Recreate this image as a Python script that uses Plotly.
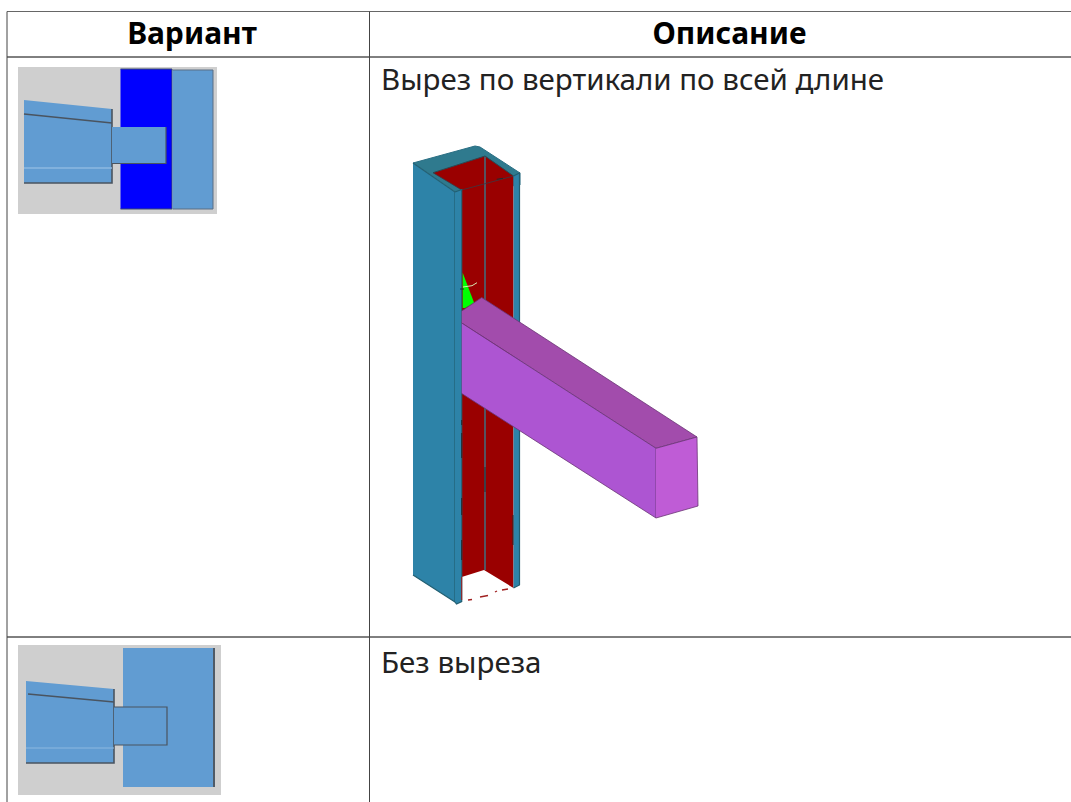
import plotly.graph_objects as go

W, H = 1071, 802

# ---- text ----
header_labels = ["Вариант", "Описание"]
header_x = [192, 729.5]
header_y = [36, 36]
row_labels = ["Вырез по вертикали по всей длине", "Без выреза"]
row_x = [381, 381]
row_y = [83, 666]

# ---- table rules ----
rule_h_x = [7, 1071]
rule_h_y = [11.5, 57, 637]
rule_v_x = [7, 369.5]
rule_v_y = [11.5, 802]

# ---- thumbnail 1 ----
t1_bg_x = [18, 217, 217, 18]
t1_bg_y = [67, 67, 214, 214]
t1_blue_x = [120.5, 172, 172, 120.5]
t1_blue_y = [69, 69, 209, 209]
t1_plate_x = [172.5, 213, 213, 172.5]
t1_plate_y = [70, 70, 209, 209]
t1_beam_x = [24, 112, 112, 24]
t1_beam_y = [100, 109, 183, 183]
t1_stub_x = [112, 166, 166, 112]
t1_stub_y = [127, 127, 163.5, 163.5]
t1_dark_x = [24, 112]
t1_dark_y = [114, 123]
t1_light_y = [168, 168]

# ---- thumbnail 2 ----
t2_bg_x = [18, 221, 221, 18]
t2_bg_y = [645, 645, 795, 795]
t2_plate_x = [123, 214, 214, 123]
t2_plate_y = [648, 648, 787, 787]
t2_edge_x = [214, 214]
t2_edge_y = [648, 787]
t2_beam_x = [26, 114, 114, 26]
t2_beam_y = [681, 689, 763, 763]
t2_stub_x = [114, 167, 167, 114]
t2_stub_y = [707, 707, 745, 745]
t2_dark_x = [28, 114]
t2_dark_y = [694, 702]
t2_light_x = [26, 114]
t2_light_y = [748, 748]

# ---- 3D view ----
cap_x = [413, 475, 480, 520, 520, 455]
cap_y = [163, 146, 147, 173, 185, 192]
red_x = [433, 485, 513.5, 513.5, 484, 461.7, 461.7]
red_y = [172.7, 156, 176, 588, 570, 577, 190]
face_x = [413, 455, 455, 413]
face_y = [163, 192, 602, 575]
flange_x = [455, 461.7, 461.7, 456.5, 455]
flange_y = [192, 189.5, 601.5, 604, 602]
right_x = [513.5, 519.5, 519.5, 514.5, 513.5]
right_y = [176, 173, 585, 588, 588]
web_x = [485, 485]
web_y = [156, 570]
edge_a_x = [433, 461.7, 513.5]
edge_a_y = [172.7, 190, 176]
rim_x = [433, 485, 513.5]
rim_y = [172.7, 156, 176]
beam_top_x = [461.7, 481.7, 697, 656, 461.7]
beam_top_y = [311, 297.5, 437, 448.3, 323]
beam_front_x = [461.7, 656, 656, 461.7]
beam_front_y = [323, 448.3, 518, 393.5]
beam_end_x = [656, 697, 698, 656]
beam_end_y = [448.3, 437, 506, 518]
green_x = [462.7, 474.3, 465, 462.7]
green_y = [272.7, 303.3, 308, 308]
pale_x = [463, 472, 477]
pale_y = [287, 285.7, 282.7]
red_end_x = [461.7, 461.7]
red_end_y = [577, 600]
red_dash_x = [468, 472, None, 480, 488, None, 495, 497, None, 502, 508]
red_dash_y = [600, 599.5, None, 597, 595.5, None, 592, 591, None, 590, 589]
black_dash_x = [461.7, 461.7, None, 461.7, 461.7, None, 461.7, 461.7, None, 461.7, 461.7, None,
                485, 485, None, 513, 513, None, 496.7, 503, None, 460, 464]
black_dash_y = [420, 425, None, 433, 458, None, 498, 515, None, 540, 560, None,
                467, 492, None, 515, 545, None, 179.3, 178.3, None, 289, 289]


def poly(fig, x, y, fill, line=None, width=1):
    fig.add_trace(go.Scatter(x=x, y=y, mode="lines", fill="toself", fillcolor=fill,
                             line=dict(color=line or fill, width=width if line else 0),
                             hoverinfo="skip", showlegend=False))


def stroke(fig, x, y, color, width=1):
    fig.add_trace(go.Scatter(x=x, y=y, mode="lines", line=dict(color=color, width=width),
                             hoverinfo="skip", showlegend=False, connectgaps=False))


fig = go.Figure()
BEAM = "#619CD2"
DARK = "#4A5460"
GRAY = "#CFCFCF"

# thumbnail 1
poly(fig, t1_bg_x, t1_bg_y, GRAY)
poly(fig, t1_blue_x, t1_blue_y, "#0000FF", "#3A4A70", 1)
poly(fig, t1_plate_x, t1_plate_y, BEAM, "#5A6E85", 1)
poly(fig, t1_beam_x, t1_beam_y, BEAM)
stroke(fig, t1_beam_x[1:], t1_beam_y[1:], DARK, 1.6)
stroke(fig, t1_dark_x, t1_dark_y, DARK, 1.6)
stroke(fig, t1_dark_x, t1_light_y, "#8DB8E0", 1.5)
poly(fig, t1_stub_x, t1_stub_y, BEAM)
stroke(fig, t1_stub_x[1:], t1_stub_y[1:], DARK, 1.2)

# thumbnail 2
poly(fig, t2_bg_x, t2_bg_y, GRAY)
poly(fig, t2_plate_x, t2_plate_y, BEAM)
stroke(fig, t2_edge_x, t2_edge_y, "#4F5A66", 2)
poly(fig, t2_beam_x, t2_beam_y, BEAM)
stroke(fig, t2_beam_x[1:], t2_beam_y[1:], DARK, 1.6)
stroke(fig, t2_dark_x, t2_dark_y, DARK, 1.6)
stroke(fig, t2_light_x, t2_light_y, "#8DB8E0", 1)
poly(fig, t2_stub_x, t2_stub_y, BEAM, DARK, 1.2)

# 3D view
poly(fig, cap_x, cap_y, "#2F7A8E", "#2A6F84", 1)
poly(fig, red_x, red_y, "#9A0000")
stroke(fig, web_x, web_y, "#3F6F80", 1.5)
stroke(fig, edge_a_x, edge_a_y, "#3A3A44", 0.8)
stroke(fig, rim_x, rim_y, "#2A4A55", 1)
poly(fig, face_x, face_y, "#2D83A8", "#225F72", 1.2)
poly(fig, flange_x, flange_y, "#2D83A8", "#225F72", 1.2)
poly(fig, right_x, right_y, "#2D83A8", "#225F72", 1.2)
poly(fig, green_x, green_y, "#00FF00")
stroke(fig, pale_x, pale_y, "#D8E8B0", 1)
stroke(fig, red_end_x, red_end_y, "#A02020", 1)
stroke(fig, red_dash_x, red_dash_y, "#A02020", 1.3)
stroke(fig, black_dash_x, black_dash_y, "#222A30", 1)
poly(fig, beam_top_x, beam_top_y, "#A24CAC", "#6A3575", 0.8)
poly(fig, beam_front_x, beam_front_y, "#AD55D2", "#6A3575", 0.8)
poly(fig, beam_end_x, beam_end_y, "#BF5CD6", "#6A3575", 0.8)

# table rules
for y in rule_h_y:
    stroke(fig, rule_h_x, [y, y], "#000000" if y != rule_h_y[0] else "#666666", 1)
for x in rule_v_x:
    stroke(fig, [x, x], rule_v_y, "#444444", 1)

# text
fig.add_trace(go.Scatter(x=header_x, y=header_y, mode="text", text=[f"<b>{t}</b>" for t in header_labels],
                         textposition="middle center", hoverinfo="skip", showlegend=False,
                         textfont=dict(family="Noto Sans", size=30, color="#000000")))
fig.add_trace(go.Scatter(x=row_x, y=row_y, mode="text", text=row_labels,
                         textposition="middle right", hoverinfo="skip", showlegend=False,
                         textfont=dict(family="Noto Sans", size=29.5, color="#222222")))

fig.update_layout(
    width=W, height=H, margin=dict(l=0, r=0, t=0, b=0),
    paper_bgcolor="white", plot_bgcolor="white", showlegend=False,
    xaxis=dict(range=[0, W], visible=False, fixedrange=True),
    yaxis=dict(range=[H, 0], visible=False, fixedrange=True),
)
fig.write_html("out.html", config={"displayModeBar": False},
               post_script="document.body.style.margin='0';document.body.style.overflow='hidden';")
